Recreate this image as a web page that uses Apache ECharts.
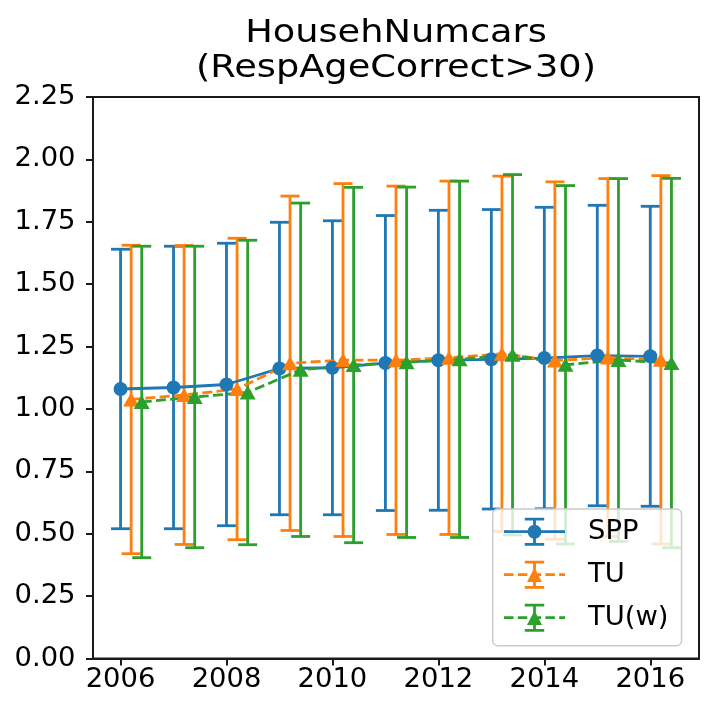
<!DOCTYPE html>
<html>
<head>
<meta charset="utf-8">
<script src="https://cdn.jsdelivr.net/npm/echarts@6/dist/echarts.min.js"></script>
<style>
html,body{margin:0;padding:0;background:#fff;}
#chart{width:716px;height:717px;}
</style>
</head>
<body>
<div id="chart"></div>
<script>
// ---- data ----
const years = [2006, 2007, 2008, 2009, 2010, 2011, 2012, 2013, 2014, 2015, 2016];
const tickYears = [2006, 2008, 2010, 2012, 2014, 2016];
const yTicks = [0, 0.25, 0.5, 0.75, 1.0, 1.25, 1.5, 1.75, 2.0, 2.25];
const seriesNames = ['SPP', 'TU', 'TU(w)'];
const xOffsets = [0, 0.2, 0.4];

const sppMean = [1.080, 1.086, 1.098, 1.162, 1.165, 1.184, 1.195, 1.199, 1.204, 1.214, 1.211];
const sppErr  = [0.560, 0.566, 0.566, 0.586, 0.589, 0.591, 0.601, 0.600, 0.604, 0.602, 0.601];

const tuMean  = [1.038, 1.056, 1.080, 1.183, 1.196, 1.195, 1.205, 1.221, 1.194, 1.206, 1.197];
const tuErr   = [0.618, 0.599, 0.604, 0.670, 0.707, 0.698, 0.708, 0.712, 0.716, 0.717, 0.738];

const tuwMean = [1.028, 1.048, 1.066, 1.157, 1.176, 1.187, 1.199, 1.217, 1.177, 1.196, 1.184];
const tuwErr  = [0.624, 0.604, 0.610, 0.668, 0.712, 0.702, 0.714, 0.722, 0.718, 0.727, 0.740];

const means = [sppMean, tuMean, tuwMean];
const errs = [sppErr, tuErr, tuwErr];
const colors = ['#1f77b4', '#ff7f0e', '#2ca02c'];
const symbols = ['circle', 'triangle', 'triangle'];
const dashed = [false, true, true];

const FONT = '"DejaVu Sans", "Liberation Sans", sans-serif';

// legend glyphs (line + marker + errorbar), drawn as filled paths
const vbar = 'M291 0 L319 0 L319 280 L291 280 Z M208 0 L402 0 L402 28 L208 28 Z M208 252 L402 252 L402 280 L208 280 Z ';
const solidLine = 'M0 126 L610 126 L610 154 L0 154 Z ';
const dashLine = 'M0 126 L95 126 L95 154 L0 154 Z M138 126 L233 126 L233 154 L138 154 Z M276 126 L371 126 L371 154 L276 154 Z M414 126 L509 126 L509 154 L414 154 Z M552 126 L610 126 L610 154 L552 154 Z ';
const circ = 'M235 140 A70 70 0 1 1 375 140 A70 70 0 1 1 235 140 Z';
const tri = 'M305 68 L380 212 L230 212 Z';
const legendIcons = [
  'path://' + solidLine + vbar + circ,
  'path://' + dashLine + vbar + tri,
  'path://' + dashLine + vbar + tri
];

const LW = 2.8;
const series = [];
// error bars first (drawn beneath the data lines)
seriesNames.forEach((name, si) => {
  const data = years.map((y, i) => [y + xOffsets[si], means[si][i] - errs[si][i], means[si][i] + errs[si][i]]);
  series.push({
    name: name + ' err',
    type: 'custom',
    z: 2,
    silent: true,
    encode: { x: 0, y: [1, 2] },
    data: data,
    renderItem: function (params, api) {
      const x = api.value(0);
      const lo = api.coord([x, api.value(1)]);
      const hi = api.coord([x, api.value(2)]);
      const cap = 9.5;
      const st = { stroke: colors[si], lineWidth: LW, fill: null };
      return {
        type: 'group',
        children: [
          { type: 'line', shape: { x1: lo[0], y1: lo[1], x2: hi[0], y2: hi[1] }, style: st },
          { type: 'line', shape: { x1: hi[0] - cap, y1: hi[1], x2: hi[0] + cap, y2: hi[1] }, style: st },
          { type: 'line', shape: { x1: lo[0] - cap, y1: lo[1], x2: lo[0] + cap, y2: lo[1] }, style: st }
        ]
      };
    }
  });
});
seriesNames.forEach((name, si) => {
  series.push({
    name: name,
    type: 'line',
    z: 3,
    data: years.map((y, i) => [y + xOffsets[si], means[si][i]]),
    symbol: symbols[si],
    symbolSize: si === 0 ? 14 : [16, 14],
    showSymbol: true,
    color: colors[si],
    itemStyle: { color: colors[si], borderWidth: 0 },
    lineStyle: { color: colors[si], width: LW, type: dashed[si] ? [10, 4.3] : 'solid' },
    emphasis: { disabled: true },
    silent: true
  });
});

const chart = echarts.init(document.getElementById('chart'), null, { renderer: 'canvas' });
chart.setOption({
  animation: false,
  backgroundColor: '#ffffff',
  textStyle: { fontFamily: FONT },
  grid: { left: 93, right: 17, top: 97, bottom: 58.5, show: true, borderColor: '#1a1a1a', borderWidth: 2, backgroundColor: 'transparent' },
  xAxis: {
    type: 'value',
    min: 2005.48,
    max: 2016.92,
    splitLine: { show: false },
    axisLine: { show: true, lineStyle: { color: '#1a1a1a', width: 2 } },
    axisTick: { show: true, length: 7, lineStyle: { color: '#1a1a1a', width: 2 }, customValues: tickYears },
    axisLabel: { customValues: tickYears, fontSize: 27.4, fontFamily: FONT, color: '#000', margin: 8, formatter: v => String(v) }
  },
  yAxis: {
    type: 'value',
    min: 0,
    max: 2.25,
    interval: 0.25,
    splitLine: { show: false },
    axisLine: { show: true, lineStyle: { color: '#1a1a1a', width: 2 } },
    axisTick: { show: true, length: 7, lineStyle: { color: '#1a1a1a', width: 2 }, customValues: yTicks },
    axisLabel: { customValues: yTicks, fontSize: 27.4, fontFamily: FONT, color: '#000', margin: 17.5, formatter: v => v.toFixed(2) }
  },
  legend: {
    orient: 'vertical',
    left: 492.7,
    top: 509,
    padding: [8.7, 13, 14, 11.3],
    itemGap: 15,
    itemWidth: 61,
    itemHeight: 28,
    symbolKeepAspect: true,
    backgroundColor: 'rgba(255,255,255,0.8)',
    borderColor: '#cccccc',
    borderWidth: 1.5,
    borderRadius: 5,
    selectedMode: false,
    itemStyle: { borderWidth: 0 },
    textStyle: { fontSize: 27.4, fontFamily: FONT, color: '#000', padding: [0, 0, 0, 18] },
    data: seriesNames.map((n, i) => ({ name: n, icon: legendIcons[i] }))
  },
  graphic: [
    { type: 'text', x: 396, y: 33.8, scaleX: 1.147, silent: true,
      style: { text: 'HousehNumcars', font: '32px ' + FONT, fill: '#000', align: 'center', verticalAlign: 'middle', textAlign: 'center', textVerticalAlign: 'middle' } },
    { type: 'text', x: 396, y: 68.2, scaleX: 1.147, silent: true,
      style: { text: '(RespAgeCorrect>30)', font: '32px ' + FONT, fill: '#000', align: 'center', verticalAlign: 'middle', textAlign: 'center', textVerticalAlign: 'middle' } }
  ],
  series: series
});
</script>
</body>
</html>
